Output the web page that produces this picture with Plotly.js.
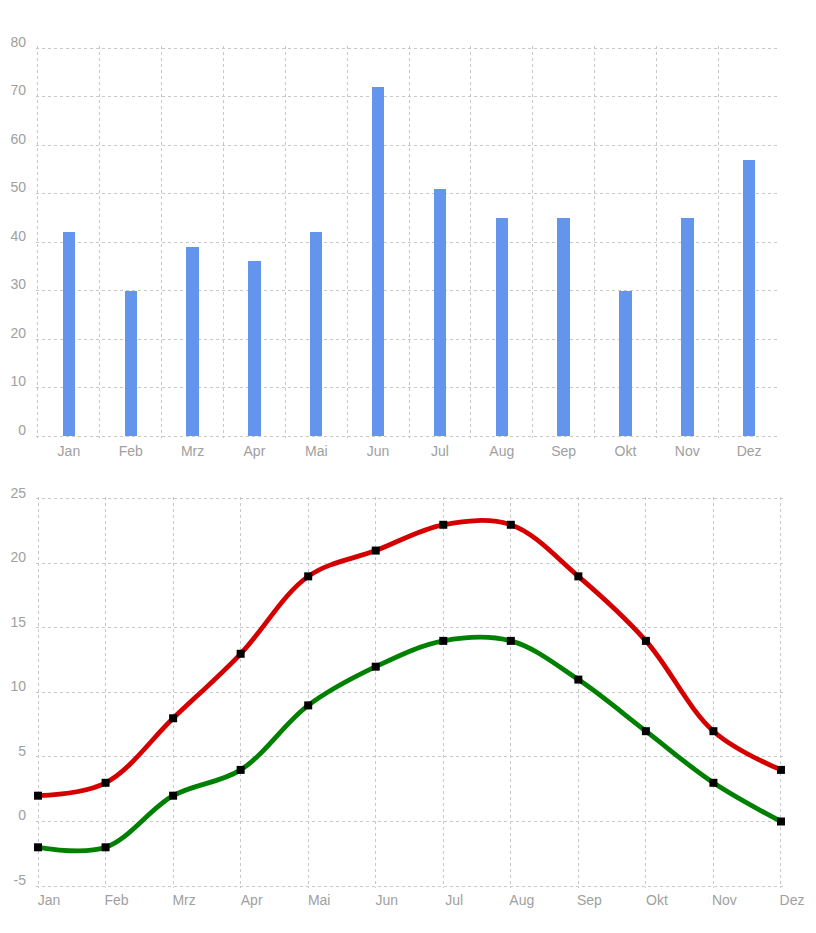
<!DOCTYPE html>
<html>
<head>
<meta charset="utf-8">
<script src="https://cdn.plot.ly/plotly-3.0.1.min.js"></script>
<style>html,body{margin:0;padding:0;background:#fff;}#chart{width:816px;height:933px;}</style>
</head>
<body>
<div id="chart"></div>
<script>
var months = ["Jan","Feb","Mrz","Apr","Mai","Jun","Jul","Aug","Sep","Okt","Nov","Dez"];
var precipitation = [42,30,39,36,42,72,51,45,45,30,45,57];
var tempMax = [2,3,8,13,19,21,23,23,19,14,7,4];
var tempMin = [-2,-2,2,4,9,12,14,14,11,7,3,0];
var tempTickVals = [-5,0,5,10,15,20,25];
var tempTickText = ["-5","0","5","10","15","20","25"];

var labelFont = {family: "Liberation Sans, Arial, sans-serif", size: 14, color: "#a0a0a0"};
var gridColor = "#c8c8c8";

var traces = [
  {type: "bar", x: months, y: precipitation, xaxis: "x", yaxis: "y",
   marker: {color: "#6495ED"}, width: 0.2, hoverinfo: "x+y"},
  {type: "scatter", mode: "lines+markers", x: months, y: tempMax, xaxis: "x2", yaxis: "y2",
   cliponaxis: false,
   line: {color: "#d40000", width: 4.8, shape: "spline", smoothing: 1},
   marker: {color: "#000", symbol: "square", size: 8}},
  {type: "scatter", mode: "lines+markers", x: months, y: tempMin, xaxis: "x2", yaxis: "y2",
   cliponaxis: false,
   line: {color: "#008000", width: 4.8, shape: "spline", smoothing: 1},
   marker: {color: "#000", symbol: "square", size: 8}}
];

var layout = {
  width: 816, height: 933,
  margin: {l: 36, r: 33, t: 46, b: 45},
  showlegend: false,
  paper_bgcolor: "#fff", plot_bgcolor: "#fff",
  bargap: 0,
  xaxis: {
    type: "category", domain: [0, 0.996], range: [-0.532, 11.499],
    tickson: "boundaries", showgrid: true, gridcolor: gridColor, griddash: "dot", gridwidth: 1,
    ticks: "", tickfont: labelFont, showline: false, zeroline: false, fixedrange: true,
    ticklabelstandoff: 3
  },
  yaxis: {
    domain: [0.5344, 1], range: [-0.412, 80.412], dtick: 10, tick0: 0,
    showgrid: true, gridcolor: gridColor, griddash: "dot", gridwidth: 1,
    zeroline: false, showline: false, ticks: "", tickfont: labelFont,
    ticklabelshift: -6, ticklabelstandoff: 9, fixedrange: true
  },
  xaxis2: {
    type: "category", domain: [0, 1], range: [-0.03, 11.03], anchor: "y2",
    showgrid: true, gridcolor: gridColor, griddash: "dot", gridwidth: 1,
    ticks: "", tickfont: labelFont, showline: false, zeroline: false,
    ticklabelshift: 11, ticklabelstandoff: 2, fixedrange: true
  },
  yaxis2: {
    domain: [0, 0.4644], range: [-5.155, 25.155], anchor: "x2",
    tickmode: "array", tickvals: tempTickVals, ticktext: tempTickText,
    showgrid: true, gridcolor: gridColor, griddash: "dot", gridwidth: 1,
    zeroline: false, showline: false, ticks: "", tickfont: labelFont,
    ticklabelshift: -6, ticklabelstandoff: 9, fixedrange: true
  }
};

Plotly.newPlot("chart", traces, layout, {displayModeBar: false, staticPlot: true});
</script>
</body>
</html>
